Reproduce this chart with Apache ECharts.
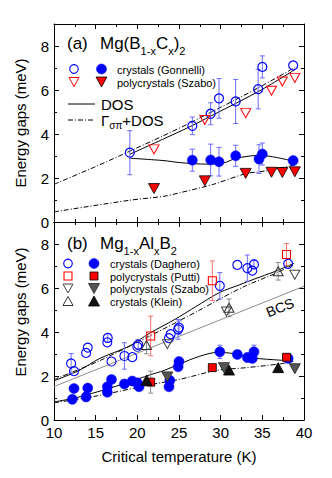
<!DOCTYPE html>
<html><head><meta charset="utf-8">
<script src="https://cdn.jsdelivr.net/npm/echarts@6/dist/echarts.min.js"></script>
<style>html,body{margin:0;padding:0;background:#fff}#c{width:332px;height:478px}</style>
</head><body><div id="c"></div>
<script>
// ---------- Panel (a): Mg(B1-xCx)2 ----------
const aCrysTc      = [19.1, 26.6, 28.8, 29.8, 31.8, 34.5, 35.0, 38.7];
const aCrysSigma   = [3.15, 4.37, 4.92, 5.62, 5.48, 6.04, 7.05, 7.12];
const aCrysSigErr  = [1.0, 0.4, 0.5, 0.9, 1.0, 0.9, 0.5, 0];
const aCrysPiTc    = [26.6, 28.8, 29.8, 31.8, 34.6, 35.0, 38.7];
const aCrysPi      = [2.81, 2.82, 2.74, 3.01, 2.86, 3.09, 2.79];
const aCrysPiErr   = [0.5, 0.72, 0.65, 0.48, 0.65, 0.5, 0];
const aPolyTc      = [22.0, 28.1, 33.0, 36.1, 37.4, 38.9];
const aPolySigma   = [3.3, 4.64, 4.95, 5.97, 6.39, 6.55];
const aPolyPi      = [1.52, 1.87, 2.21, 2.26, 2.25, 2.28];
// theory curves (a)
const aDosSigT = [19.1, 23, 26.3, 29, 32.1, 35, 38.9];
const aDosSigV = [3.08, 3.75, 4.33, 4.85, 5.45, 6.03, 6.92];
const aGamSigT = [10, 15, 19.1, 23, 26.3, 29, 32.1, 35, 38.9];
const aGamSigV = [1.71, 2.52, 3.22, 3.9, 4.5, 5.02, 5.62, 6.2, 7.02];
const aDosPiT  = [19.1, 23.2, 25.1, 28.3, 30.3, 31.9, 34.7, 38.9];
const aDosPiV  = [2.9, 2.79, 2.7, 2.63, 2.68, 2.9, 3.03, 2.75];
const aGamPiT  = [10, 19.1, 23.2, 25.1, 29.1, 33.1, 34.7, 38.9];
const aGamPiV  = [0.46, 0.99, 1.17, 1.33, 1.71, 2.21, 2.28, 2.59];

// ---------- Panel (b): Mg1-xAlxB2 ----------
const bCrysSigT   = [12.05, 12.4, 13.85, 14.05, 16.4, 16.45, 16.9, 18.45, 19.4, 20.0, 20.1, 23.8, 24.0, 24.9, 25.0, 29.9, 32.0, 33.2, 33.8, 34.0, 38.1];
const bCrysSigma  = [2.57, 2.22, 3.05, 3.29, 3.53, 3.73, 2.66, 2.91, 2.86, 3.33, 3.43, 3.72, 3.9, 4.12, 4.2, 6.1, 7.05, 6.9, 6.79, 7.07, 7.1];
const bCrysSigErr = [0.45, 0, 0, 0, 0, 0.2, 0, 0.6, 0, 0, 0.22, 0, 0, 0.45, 0.3, 0.6, 0, 0.6, 0, 0.2, 0];
const bCrysPiT    = [12.2, 12.4, 13.85, 14.05, 16.4, 16.4, 16.9, 18.45, 19.4, 20.0, 20.2, 23.8, 23.9, 24.9, 25.0, 29.9, 32.0, 33.2, 33.8, 34.0, 38.1];
const bCrysPi     = [0.94, 1.43, 1.05, 1.45, 1.26, 1.51, 1.84, 1.64, 1.77, 1.69, 1.51, 1.51, 1.8, 2.42, 2.66, 3.1, 2.98, 2.84, 2.8, 3.1, 2.8];
const bCrysPiErr  = [0, 0, 0.2, 0, 0, 0, 0, 0, 0, 0, 0.15, 0, 0, 0, 0, 0.3, 0, 0.2, 0, 0.3, 0];
const bPuttiT     = [21.6, 29.0, 37.9];
const bPuttiSigma = [3.82, 6.33, 7.52];
const bPuttiSigErr= [0.9, 0.9, 0.5];
const bPuttiPi    = [1.72, 2.38, 2.85];
const bPuttiPiErr = [0.5, 0, 0];
const bSzaboSigT  = [23.6, 30.7, 38.9];
const bSzaboSigma = [3.45, 4.93, 6.6];
const bSzaboPiT   = [23.6, 30.4, 38.9];
const bSzaboPi    = [1.96, 2.38, 2.33];
const bKleinT     = [21.1, 31.0, 36.9];
const bKleinSigma = [3.41, 5.1, 6.76];
const bKleinSigErr= [0.4, 0.4, 0.4];
const bKleinPi    = [1.81, 2.27, 2.38];
const bKleinPiErr = [0.15, 0, 0.15];
// theory curves (b)
const bDosSigT = [10, 13, 15.5, 19, 21.5, 24.4, 27, 29.9, 32.3, 34, 36.5, 38.8];
const bDosSigV = [1.78, 2.25, 2.8, 3.35, 3.95, 4.55, 5.15, 5.8, 6.15, 6.4, 6.75, 7.12];
const bGamSigT = [10, 15.5, 21.5, 27.5, 29.9, 33, 36.8, 38.8];
const bGamSigV = [1.84, 2.7, 3.82, 5.0, 5.5, 6.1, 6.7, 7.08];
const bBcsT    = [10, 40];
const bBcsV    = [1.52, 6.08];
const bDosPiT  = [10, 12.5, 15.2, 18, 21.5, 23.2, 25.1, 27.5, 29.7, 31.5, 33.9, 37.1, 38.7];
const bDosPiV  = [0.82, 1.0, 1.28, 1.6, 2.05, 2.25, 2.55, 2.9, 3.08, 3.02, 2.82, 2.72, 2.68];
const bGamPiT  = [10, 15.2, 21.5, 25.1, 29.5, 33.1, 37.1, 38.7];
const bGamPiV  = [0.78, 1.1, 1.6, 1.85, 2.25, 2.38, 2.55, 2.66];

// axis ticks
const xMin = 10, xMax = 40, xStep = 5;
const yMin = 0, yMax = 9, yStep = 2;

const FONT = '"Liberation Sans", Arial, Helvetica, sans-serif';
const BLUE = '#0000ff', BLUE_ERR = '#6b6bff', RED = '#ff0000', RED_ERR = '#ff7070';
const GRAY_ERR = '#8a8a8a';

function pairs(xs, ys) { return xs.map((x, i) => [x, ys[i]]); }
function errs(xs, ys, es) {
  const out = [];
  xs.forEach((x, i) => { if (es[i] > 0) out.push([x, ys[i], ys[i] - es[i], ys[i] + es[i]]); });
  return out;
}

function xAx(grid, pos, label) {
  return {
    type: 'value', gridIndex: grid, position: pos, min: xMin, max: xMax, interval: xStep,
    axisLine: { show: true, onZero: false, lineStyle: { color: '#000', width: 1 } },
    axisTick: { show: true, inside: true, length: 5, lineStyle: { color: '#000', width: 1 } },
    minorTick: { show: true, splitNumber: 2, length: 3, lineStyle: { color: '#000', width: 1 } },
    splitLine: { show: false }, minorSplitLine: { show: false },
    axisLabel: { show: label, color: '#000', fontSize: 15, fontFamily: FONT, margin: 6, lineHeight: 13 },
    name: label ? 'Critical temperature (K)' : '',
    nameLocation: 'middle', nameGap: 29,
    nameTextStyle: { color: '#000', fontSize: 15, fontFamily: FONT }
  };
}
function yAx(grid, pos, major, label) {
  return {
    type: 'value', gridIndex: grid, position: pos, min: yMin, max: yMax, interval: major ? yStep : 1,
    axisLine: { show: major, onZero: false, lineStyle: { color: '#000', width: 1 } },
    axisTick: { show: true, inside: true, length: major ? 5 : 3, lineStyle: { color: '#000', width: 1 } },
    splitLine: { show: false },
    axisLabel: { show: label, color: '#000', fontSize: 15, fontFamily: FONT, margin: 5, lineHeight: 12,
      formatter: v => (v % 2 === 0 ? String(v) : '') }
  };
}

function sc(data, symbol, size, fill, stroke, bw, xi, yi, rot) {
  return {
    type: 'scatter', xAxisIndex: xi, yAxisIndex: yi, data: data, symbol: symbol,
    symbolSize: size, symbolRotate: rot || 0, z: 5, silent: true,
    itemStyle: { color: fill, borderColor: stroke, borderWidth: bw, opacity: 1 },
    emphasis: { disabled: true }
  };
}
function eb(data, color, xi, yi) {
  return {
    type: 'custom', xAxisIndex: xi, yAxisIndex: yi, data: data, z: 4, silent: true,
    encode: { x: 0, y: [2, 3] },
    renderItem: function (params, api) {
      const x = api.value(0), lo = api.value(2), hi = api.value(3);
      const p1 = api.coord([x, hi]), p2 = api.coord([x, lo]);
      const w = 2.5;
      const st = { stroke: color, lineWidth: 1, fill: null };
      return { type: 'group', children: [
        { type: 'line', shape: { x1: p1[0], y1: p1[1], x2: p2[0], y2: p2[1] }, style: st },
        { type: 'line', shape: { x1: p1[0] - w, y1: p1[1], x2: p1[0] + w, y2: p1[1] }, style: st },
        { type: 'line', shape: { x1: p2[0] - w, y1: p2[1], x2: p2[0] + w, y2: p2[1] }, style: st }
      ]};
    }
  };
}
const DASHDOT = [5, 2, 1, 2];
function ln(xs, ys, type, color, xi, yi, smooth) {
  return {
    type: 'line', xAxisIndex: xi, yAxisIndex: yi, data: pairs(xs, ys), showSymbol: false, symbol: 'none',
    smooth: smooth === undefined ? 0.3 : smooth, z: 3, silent: true,
    lineStyle: { color: color, width: 1, type: type }
  };
}

const OPEN = 'rgba(255,255,255,0)';
const series = [
  // panel a
  ln(aDosSigT, aDosSigV, 'solid', '#000', 0, 0),
  ln(aGamSigT, aGamSigV, DASHDOT, '#000', 0, 0),
  ln(aDosPiT, aDosPiV, 'solid', '#000', 0, 0),
  ln(aGamPiT, aGamPiV, DASHDOT, '#000', 0, 0),
  eb(errs(aCrysTc, aCrysSigma, aCrysSigErr), BLUE_ERR, 0, 0),
  eb(errs(aCrysPiTc, aCrysPi, aCrysPiErr), BLUE_ERR, 0, 0),
  sc(pairs(aCrysTc, aCrysSigma), 'circle', 9, OPEN, BLUE, 1.2, 0, 0),
  sc(pairs(aCrysPiTc, aCrysPi), 'circle', 10, BLUE, BLUE, 0.5, 0, 0),
  sc(pairs(aPolyTc, aPolySigma), 'triangle', [10, 9], OPEN, RED, 1, 0, 0, 180),
  sc(pairs(aPolyTc, aPolyPi), 'triangle', [11, 10], RED, '#000', 0.8, 0, 0, 180),
  // panel b
  ln(bBcsT, bBcsV, 'solid', '#8c8c8c', 2, 4, false),
  ln(bDosSigT, bDosSigV, 'solid', '#000', 2, 4),
  ln(bGamSigT, bGamSigV, DASHDOT, '#000', 2, 4),
  ln(bDosPiT, bDosPiV, 'solid', '#000', 2, 4),
  ln(bGamPiT, bGamPiV, DASHDOT, '#000', 2, 4),
  eb(errs(bCrysSigT, bCrysSigma, bCrysSigErr), BLUE_ERR, 2, 4),
  eb(errs(bCrysPiT, bCrysPi, bCrysPiErr), BLUE_ERR, 2, 4),
  eb(errs(bPuttiT, bPuttiSigma, bPuttiSigErr), RED_ERR, 2, 4),
  eb(errs(bPuttiT, bPuttiPi, bPuttiPiErr), GRAY_ERR, 2, 4),
  eb(errs(bKleinT, bKleinSigma, bKleinSigErr), GRAY_ERR, 2, 4),
  eb(errs(bKleinT, bKleinPi, bKleinPiErr), GRAY_ERR, 2, 4),
  sc(pairs(bCrysSigT, bCrysSigma), 'circle', 9, OPEN, BLUE, 1.1, 2, 4),
  sc(pairs(bCrysPiT, bCrysPi), 'circle', 10, BLUE, BLUE, 0.5, 2, 4),
  sc(pairs(bPuttiT, bPuttiSigma), 'rect', 8, OPEN, RED, 1.1, 2, 4),
  sc(pairs(bPuttiT, bPuttiPi), 'rect', 8, RED, '#000', 0.8, 2, 4),
  sc(pairs(bSzaboSigT, bSzaboSigma), 'triangle', [10, 9], OPEN, '#444', 1, 2, 4, 180),
  sc(pairs(bSzaboPiT, bSzaboPi), 'triangle', [11, 10], '#555', '#222', 0.8, 2, 4, 180),
  sc(pairs(bKleinT, bKleinSigma), 'triangle', [10, 9], OPEN, '#333', 1, 2, 4),
  sc(pairs(bKleinT, bKleinPi), 'triangle', [11, 10], '#111', '#000', 0.8, 2, 4)
];

// legend / annotation graphics
function txt(x, y, s, size, extra) {
  return Object.assign({ type: 'text', x: x, y: y, silent: true, style: {
    text: s, fill: '#000', font: size + 'px ' + FONT, fontSize: size, fontFamily: FONT,
    align: 'left', textAlign: 'left', verticalAlign: 'middle', textVerticalAlign: 'middle' } }, extra || {});
}
const mctx = document.createElement('canvas').getContext('2d');
function formula(x, yc, parts, main, sub, dy) {
  const out = [];
  let cx = x;
  parts.forEach(p => {
    const size = p[1] ? sub : main;
    mctx.font = size + 'px ' + FONT;
    out.push(txt(cx, p[1] ? yc + dy : yc, p[0], size));
    cx += mctx.measureText(p[0]).width;
  });
  return out;
}
function circ(cx, cy, r, fill, stroke, lw) {
  return { type: 'circle', silent: true, shape: { cx: cx, cy: cy, r: r }, style: { fill: fill, stroke: stroke, lineWidth: lw } };
}
function tri(cx, cy, w, h, down, fill, stroke, lw) {
  const pts = down ? [[cx - w / 2, cy - h / 2], [cx + w / 2, cy - h / 2], [cx, cy + h / 2]]
                   : [[cx - w / 2, cy + h / 2], [cx + w / 2, cy + h / 2], [cx, cy - h / 2]];
  return { type: 'polygon', silent: true, shape: { points: pts }, style: { fill: fill, stroke: stroke, lineWidth: lw } };
}
function sq(cx, cy, s, fill, stroke, lw) {
  return { type: 'rect', silent: true, shape: { x: cx - s / 2, y: cy - s / 2, width: s, height: s }, style: { fill: fill, stroke: stroke, lineWidth: lw } };
}
function hl(x1, x2, y, dash) {
  return { type: 'line', silent: true, shape: { x1: x1, y1: y, x2: x2, y2: y }, style: { stroke: '#000', lineWidth: 1, lineDash: dash || null } };
}
function rotText(x, y, s, size, rot) {
  return { type: 'text', x: x, y: y, rotation: rot, silent: true, style: {
    text: s, fill: '#000', fontSize: size, fontFamily: FONT,
    align: 'center', textAlign: 'center', verticalAlign: 'middle', textVerticalAlign: 'middle' } };
}

const graphics = [
  rotText(20, 123, 'Energy gaps (meV)', 15, Math.PI / 2),
  rotText(20, 312, 'Energy gaps (meV)', 15, Math.PI / 2),
  // panel a title
  txt(67, 43.5, '(a)', 17),
  ...formula(100, 43.5, [['Mg(B', 0], ['1-x', 1], ['C', 0], ['x', 1], [')', 0], ['2', 1]], 17, 11, 7),
  // panel a legend
  circ(74, 69, 4.3, '#fff', BLUE, 1.1), circ(101.5, 69, 5, BLUE, BLUE, 0.5),
  txt(117, 69.5, 'crystals (Gonnelli)', 11),
  tri(74, 82, 10, 9, true, '#fff', RED, 1), tri(101.5, 82, 11, 10, true, RED, '#000', 0.8),
  txt(117, 82.5, 'polycrystals (Szabo)', 11),
  hl(68, 95, 104), txt(101, 104, 'DOS', 15),
  hl(68, 95, 120, DASHDOT),
  ...formula(101, 120, [['Γ', 0], ['σπ', 1], ['+DOS', 0]], 15, 10, 5),
  // panel b title
  txt(67, 243.5, '(b)', 17),
  ...formula(100, 243.5, [['Mg', 0], ['1-x', 1], ['Al', 0], ['x', 1], ['B', 0], ['2', 1]], 17, 11, 7),
  // panel b legend
  circ(68, 263.5, 4.3, '#fff', BLUE, 1.1), circ(94, 263.5, 5, BLUE, BLUE, 0.5),
  txt(110, 264, 'crystals (Daghero)', 11),
  sq(68, 276, 8, '#fff', RED, 1.1), sq(94, 276, 8, RED, '#000', 0.8),
  txt(110, 276.5, 'polycrystals (Putti)', 11),
  tri(68, 288.5, 10, 9, true, '#fff', '#444', 1), tri(94, 288.5, 11, 10, true, '#555', '#222', 0.8),
  txt(110, 289, 'polycrystals (Szabo)', 11),
  tri(68, 301, 10, 9, false, '#fff', '#333', 1), tri(94, 301, 11, 10, false, '#111', '#000', 0.8),
  txt(110, 301.5, 'crystals (Klein)', 11),
  // BCS label
  rotText(280, 307.5, 'BCS', 14, 0.38)
];

const chart = echarts.init(document.getElementById('c'), null, { renderer: 'svg' });
chart.setOption({
  animation: false,
  backgroundColor: '#fff',
  textStyle: { fontFamily: FONT },
  grid: [
    { left: 54, top: 24, width: 250, height: 198, containLabel: false, outerBoundsMode: 'none' },
    { left: 54, top: 222, width: 250, height: 198, containLabel: false, outerBoundsMode: 'none' }
  ],
  xAxis: [xAx(0, 'bottom', false), xAx(0, 'top', false), xAx(1, 'bottom', true), xAx(1, 'top', false)],
  yAxis: [
    yAx(0, 'left', true, true), yAx(0, 'left', false, false), yAx(0, 'right', true, false), yAx(0, 'right', false, false),
    yAx(1, 'left', true, true), yAx(1, 'left', false, false), yAx(1, 'right', true, false), yAx(1, 'right', false, false)
  ],
  series: series,
  graphic: graphics
});
</script>
</body></html>
